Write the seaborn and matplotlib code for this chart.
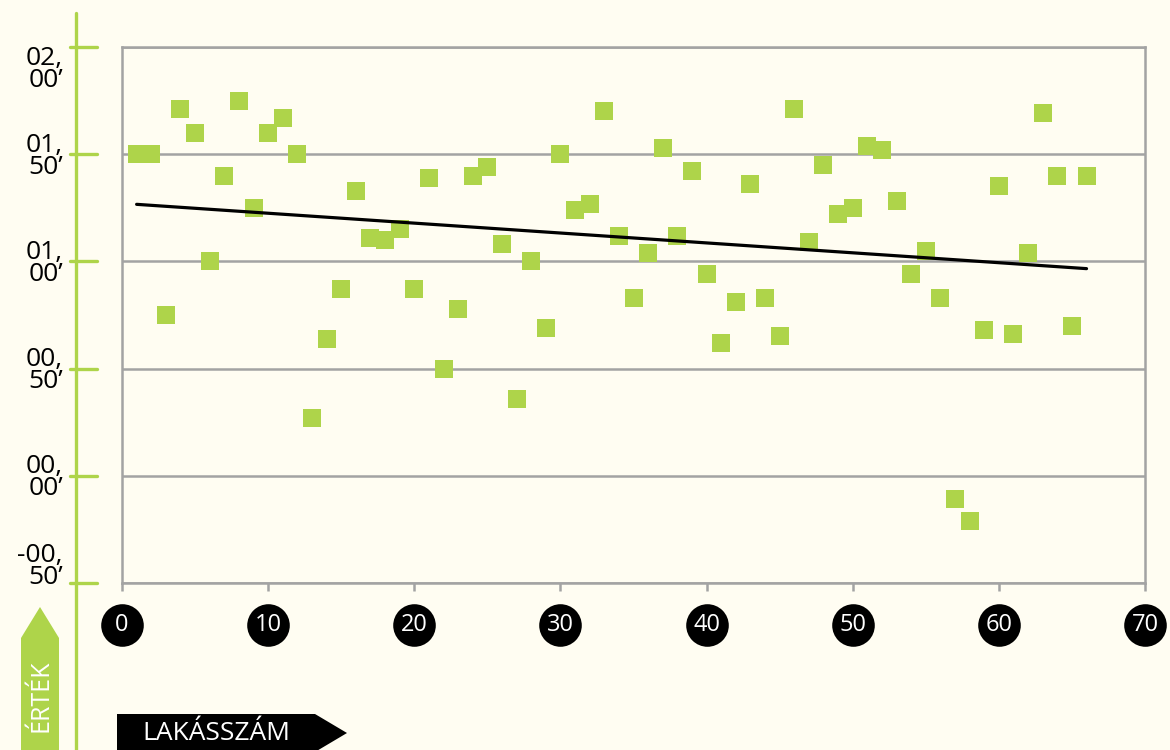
import numpy as np
import pandas as pd
import seaborn as sns
import matplotlib.pyplot as plt
import matplotlib.transforms as mtransforms
from matplotlib.patches import Polygon
from matplotlib.lines import Line2D

# ---------------- data ----------------
lakasszam = list(range(1, 67))
ertek = [1.50, 1.50, 0.75, 1.71, 1.60, 1.00, 1.40, 1.75, 1.25, 1.60,
         1.67, 1.50, 0.27, 0.64, 0.87, 1.33, 1.11, 1.10, 1.15, 0.87,
         1.39, 0.50, 0.78, 1.40, 1.44, 1.08, 0.36, 1.00, 0.69, 1.50,
         1.24, 1.27, 1.70, 1.12, 0.83, 1.04, 1.53, 1.12, 1.42, 0.94,
         0.62, 0.81, 1.36, 0.83, 0.65, 1.71, 1.09, 1.45, 1.22, 1.25,
         1.54, 1.52, 1.28, 0.94, 1.05, 0.83, -0.11, -0.21, 0.68, 1.35,
         0.66, 1.04, 1.69, 1.40, 0.70, 1.40]
x_ticks = [0, 10, 20, 30, 40, 50, 60, 70]
y_ticks = [-0.5, 0.0, 0.5, 1.0, 1.5, 2.0]
y_labels = ["-00,\n50\u2019", "00,\n00\u2019", "00,\n50\u2019",
            "01,\n00\u2019", "01,\n50\u2019", "02,\n00\u2019"]
x_title = "LAKÁSSZÁM"
y_title = "ÉRTÉK"

BG = "#FFFDF2"
GREEN = "#AED44A"
GRAY = "#A3A3A3"
W, H = 1170, 750

sns.set_theme(style="white")
plt.rcParams["font.family"] = ["Open Sans", "DejaVu Sans"]

fig = plt.figure(figsize=(W / 100, H / 100), dpi=100, facecolor=BG)
ax = fig.add_axes([122 / W, 1 - 583 / H, (1145 - 122) / W, (583 - 47) / H])
ax.set_facecolor(BG)

df = pd.DataFrame({"Lakásszám": lakasszam, "Érték": ertek})
sns.regplot(data=df, x="Lakásszám", y="Érték", ax=ax, ci=None, marker="s",
            scatter_kws=dict(s=150, color=GREEN, linewidths=0, alpha=1, zorder=3),
            line_kws=dict(color="black", lw=2.3, zorder=4))

ax.set_xlim(0, 70)
ax.set_ylim(-0.5, 2.0)
ax.set_xlabel("")
ax.set_ylabel("")
ax.set_xticks(x_ticks)
ax.set_yticks(y_ticks)
ax.set_xticklabels([])
ax.set_yticklabels([])
ax.yaxis.grid(True, color=GRAY, lw=1.8, zorder=0)
ax.xaxis.grid(False)
ax.set_axisbelow(True)
for sp in ax.spines.values():
    sp.set_visible(True)
    sp.set_color(GRAY)
    sp.set_linewidth(1.8)
ax.tick_params(axis="x", bottom=True, length=6, width=1.8, color=GRAY, direction="out")
ax.tick_params(axis="y", left=False, length=0)

# x tick labels: white numbers in black circles
xt = ax.get_xaxis_transform()
cy = (583 - 625) / (583 - 47)
ax.scatter(x_ticks, [cy] * len(x_ticks), s=940, color="black", transform=xt,
           clip_on=False, zorder=5, linewidths=0)
for v in x_ticks:
    ax.text(v, cy, str(v), transform=xt, ha="center", va="center",
            color="white", fontsize=17, zorder=6, clip_on=False)

# green y axis with ticks and labels
yt = mtransforms.blended_transform_factory(fig.transFigure, ax.transData)
fig.add_artist(Line2D([75.5 / W, 75.5 / W], [1 - 13 / H, 0], transform=fig.transFigure,
                      color=GREEN, lw=2.4))
offsets = {2.0: -16, -0.5: 12}
for v, lab in zip(y_ticks, y_labels):
    ax.plot([70 / W, 97 / W], [v, v], transform=yt, color=GREEN, lw=2.4, clip_on=False)
    off = mtransforms.offset_copy(yt, fig=fig, x=0, y=offsets.get(v, -1.5), units="points")
    ax.text(63 / W, v, lab, transform=off, ha="right", va="center",
            multialignment="right", linespacing=0.85, fontsize=19, color="black",
            clip_on=False)


def fpoly(pts, color):
    p = Polygon([(x / W, 1 - y / H) for x, y in pts], closed=True,
                transform=fig.transFigure, facecolor=color, edgecolor="none")
    fig.add_artist(p)


# ÉRTÉK arrow (up)
fpoly([(40, 607), (59, 638), (59, 752), (21, 752), (21, 638)], GREEN)
fig.text(40.5 / W, 1 - 696 / H, y_title, rotation=90, ha="center", va="center",
         color="white", fontsize=18)

# LAKÁSSZÁM arrow (right)
fpoly([(117, 714), (315, 714), (347, 733), (315, 752), (117, 752)], "black")
fig.text(216 / W, 1 - 733 / H, x_title, ha="center", va="center",
         color="white", fontsize=19)

fig.savefig("out.png", dpi=100, facecolor=BG)
